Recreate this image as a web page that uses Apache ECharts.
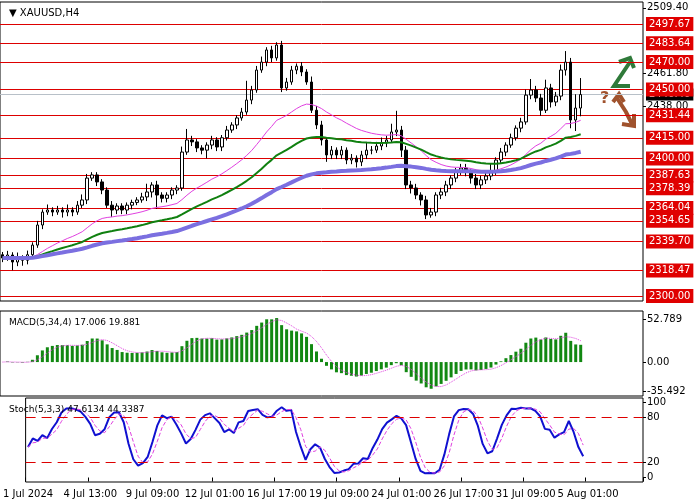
<!DOCTYPE html>
<html>
<head>
<meta charset="utf-8">
<script src="https://cdn.jsdelivr.net/npm/echarts@6/dist/echarts.min.js"></script>
<style>html,body{margin:0;padding:0;background:#fff}#main{width:700px;height:500px}</style>
</head>
<body>
<div id="main"></div>
<script>
// closing prices, one per H4 bar
var closes = [2327.6,2329.8,2324.7,2327.6,2326,2330,2337,2351.6,2361,2362.5,
  2361,2362.5,2361,2362.5,2361,2366,2369.8,2385.7,2388,2382.9,
  2377,2366,2362.5,2365.4,2362.5,2366,2368,2369.8,2372,2375.6,
  2380.7,2373.4,2371,2373.4,2377,2378.5,2404.6,2413.4,2412,2407.6,
  2406,2409.7,2413.4,2408.3,2415,2420.6,2424.3,2429.4,2433.7,2442.4,
  2449.7,2464.2,2470,2478.8,2473,2482.4,2451.2,2455.5,2464.2,2467,
  2462.8,2455.5,2435,2424.3,2413.4,2402.5,2406,2402.5,2406,2398.8,
  2400.2,2397.4,2402.5,2406,2406,2409,2411.2,2413.4,2419.2,2420.6,
  2406,2380.7,2378.5,2373.4,2369.8,2358.9,2361,2373.4,2375.6,2380.7,
  2385.7,2390,2393,2390,2385.7,2380.7,2384.4,2387.2,2390,2398.8,
  2404.6,2409.7,2415,2422,2426.5,2446,2449.7,2443.9,2435,2451.2,
  2441,2445.3,2464.2,2470,2427.9,2436.6,2446.4];
var firstOpen = 2330;
// upper / lower shadow lengths (price units)
var upWick = [2,3,2,4,2,3,2,3,2,4, 2,3,2,4,2,3,4,3,2,2, 2,2,3,2,2,2,2,2,3,6,
  2,3,2,2,2,2,4,8,3,2, 2,2,3,2,2,3,2,2,3,14, 3,3,4,2,3,2,3,3,3,2,
  3,2,4,3,3,2,3,2,3,2, 3,2,3,6,3,3,4,3,6,14, 3,3,3,3,2,3,3,2,3,3,
  2,3,3,3,2,3,3,3,6,2, 3,2,3,2,3,4,8,3,3,6, 3,3,4,8,3,10,12];
var downWick = [3,2,6,3,4,3,2,2,3,2, 3,2,4,3,3,2,2,3,2,3, 3,2,5,3,3,3,3,2,2,3,
  4,10,3,3,3,3,2,2,3,3, 3,6,3,3,3,2,2,3,2,2, 3,2,2,3,3,2,3,2,2,3,
  3,2,2,3,4,5,3,3,3,3, 3,4,3,3,3,2,3,3,2,3, 5,3,4,3,4,3,2,3,3,3,
  3,3,2,3,4,3,3,3,3,2, 2,3,2,2,3,2,3,3,4,2, 4,3,3,4,6,8,6];
var tickIdx = [0,13,26,39,52,65,78,91,104,117];
var tickLabels = ['1 Jul 2024','4 Jul 13:00','9 Jul 09:00','12 Jul 01:00','16 Jul 17:00',
  '19 Jul 09:00','24 Jul 01:00','26 Jul 17:00','31 Jul 09:00','5 Aug 01:00'];
var levels = [2497.67,2483.64,2470.00,2450.00,2431.44,2415.00,2400.00,2387.63,
  2378.39,2364.04,2354.65,2339.70,2318.47,2300.00];
var priceLabels = [2509.40,2461.80,2438.00,2294.50];
var macdLabels = [52.789,0,-35.492];
var stochLabels = [100,80,20,0];
var slotCount = 129;

var cats = [];
for (var i = 0; i < slotCount; i++) {
  var k = tickIdx.indexOf(i);
  cats.push(k >= 0 ? tickLabels[k] : '');
}
var ohlc = [], highs = [], lows = [];
for (var i = 0; i < closes.length; i++) {
  var o = i === 0 ? firstOpen : closes[i - 1], c = closes[i];
  var h = Math.max(o, c) + upWick[i], l = Math.min(o, c) - downWick[i];
  highs.push(h); lows.push(l);
  ohlc.push([o, c, l, h]);
}
function ema(src, n) {
  var a = 2 / (n + 1), out = [], v = src[0];
  for (var i = 0; i < src.length; i++) { v = i ? v + a * (src[i] - v) : src[0]; out.push(+v.toFixed(2)); }
  return out;
}
function sma(src, n) {
  var out = [];
  for (var i = 0; i < src.length; i++) {
    var s = 0, m = 0;
    for (var j = Math.max(0, i - n + 1); j <= i; j++) { s += src[j]; m++; }
    out.push(+(s / m).toFixed(3));
  }
  return out;
}
var maPink = ema(closes, 26), maGreen = ema(closes, 50), maBlue = ema(closes, 95);
var e5 = ema(closes, 5), e34 = ema(closes, 34);
var macd = e5.map(function (v, i) { return +(v - e34[i]).toFixed(3); });
var macdSig = sma(macd, 4);
var rawK = closes.map(function (c, i) {
  var hh = -Infinity, ll = Infinity;
  for (var j = Math.max(0, i - 4); j <= i; j++) { hh = Math.max(hh, highs[j]); ll = Math.min(ll, lows[j]); }
  return hh === ll ? 50 : (c - ll) / (hh - ll) * 100;
});
var stochK = sma(rawK, 3), stochD = sma(stochK, 3);

var font = 'DejaVu Sans';
var chart = echarts.init(document.getElementById('main'));
var lastClose = closes[closes.length - 1];
var lvlLines = [{ yAxis: lastClose, lineStyle: { color: '#b8c0c8', width: 1, type: 'solid' },
  label: { formatter: lastClose.toFixed(2), backgroundColor: '#000', color: '#fff', padding: [1, 3], fontSize: 10, fontFamily: font, distance: 3 } }];
levels.forEach(function (v) {
  lvlLines.push({ yAxis: v, lineStyle: { color: '#dd0000', width: 1, type: 'solid' },
    label: { formatter: v.toFixed(2), backgroundColor: '#e00000', color: '#fff', padding: [2, 3], fontSize: 10, fontFamily: font, distance: 3 } });
});

function xAx(gi, show) {
  return { type: 'category', gridIndex: gi, data: cats, boundaryGap: true,
    axisLine: { show: false }, splitLine: { show: false },
    axisTick: { show: show, interval: function (i) { return tickIdx.indexOf(i) >= 0; }, lineStyle: { color: '#000' }, length: 4 },
    axisLabel: { show: show, interval: function (i) { return tickIdx.indexOf(i) >= 0; }, color: '#000', fontSize: 10, fontFamily: font, margin: 7 } };
}
function yAx(gi, min, max, custom, fmt) {
  return { type: 'value', gridIndex: gi, position: 'right', min: min, max: max, scale: true,
    splitLine: { show: false }, axisLine: { show: false },
    axisTick: { show: true, customValues: custom, length: 3, lineStyle: { color: '#000' } },
    axisLabel: { customValues: custom, color: '#000', fontSize: 10, fontFamily: font, margin: 4, formatter: fmt } };
}
chart.setOption({
  animation: false,
  backgroundColor: '#fff',
  grid: [
    { left: 0, right: 57, top: 2, height: 299, show: true, borderColor: '#000', borderWidth: 1 },
    { left: 0, right: 57, top: 311, height: 85, show: true, borderColor: '#000', borderWidth: 1 },
    { left: 0, right: 57, top: 398, height: 84, show: true, borderColor: '#000', borderWidth: 1 }
  ],
  xAxis: [xAx(0, false), xAx(1, false), xAx(2, true)],
  yAxis: [
    yAx(0, 2296.37, 2513.66, priceLabels, function (v) { return v.toFixed(2); }),
    yAx(1, -41.6, 62.6, macdLabels, function (v) { return v === 0 ? '0.00' : v.toFixed(3); }),
    yAx(2, -6, 106, stochLabels, function (v) { return String(v); })
  ],
  title: [
    { text: '\u25BC XAUUSD,H4', left: 4, top: 3, textStyle: { fontSize: 10, fontWeight: 'normal', fontFamily: font, color: '#000' } },
    { text: 'MACD(5,34,4) 17.006 19.881', left: 4, top: 313, textStyle: { fontSize: 9, fontWeight: 'normal', fontFamily: font, color: '#000' } },
    { text: 'Stoch(5,3,3) 47.6134 44.3387', left: 4, top: 400, textStyle: { fontSize: 9, fontWeight: 'normal', fontFamily: font, color: '#000' } }
  ],
  series: [
    { type: 'candlestick', xAxisIndex: 0, yAxisIndex: 0, data: ohlc, barWidth: 3,
      itemStyle: { color: '#fff', color0: '#000', borderColor: '#000', borderColor0: '#000', borderWidth: 1 },
      markLine: { silent: true, symbol: 'none', data: lvlLines, z: 1 } },
    { type: 'line', xAxisIndex: 0, yAxisIndex: 0, data: maPink, showSymbol: false, lineStyle: { color: '#e040e0', width: 1 } },
    { type: 'line', xAxisIndex: 0, yAxisIndex: 0, data: maGreen, showSymbol: false, lineStyle: { color: '#108010', width: 2 } },
    { type: 'line', xAxisIndex: 0, yAxisIndex: 0, data: maBlue, showSymbol: false, lineStyle: { color: '#7b6fe0', width: 4 } },
    { type: 'bar', xAxisIndex: 1, yAxisIndex: 1, data: macd, barWidth: 3, itemStyle: { color: '#118811' } },
    { type: 'line', xAxisIndex: 1, yAxisIndex: 1, data: macdSig, showSymbol: false, lineStyle: { color: '#e040e0', width: 1, type: 'dotted' } },
    { type: 'line', xAxisIndex: 2, yAxisIndex: 2, data: stochK, showSymbol: false, lineStyle: { color: '#1010d0', width: 2 },
      markLine: { silent: true, symbol: 'none', label: { show: false },
        data: [{ yAxis: 80 }, { yAxis: 20 }], lineStyle: { color: '#dd0000', type: [10, 6], width: 1 } } },
    { type: 'line', xAxisIndex: 2, yAxisIndex: 2, data: stochD, showSymbol: false, lineStyle: { color: '#e040e0', width: 1, type: 'dashed' } }
  ],
  graphic: [
    { type: 'polyline', shape: { points: [[630, 86], [614, 86], [630, 62]] }, style: { stroke: '#2f7a3a', lineWidth: 4, fill: null } },
    { type: 'polyline', shape: { points: [[619, 62], [630, 58], [634, 68]] }, style: { stroke: '#2f7a3a', lineWidth: 4, fill: null } },
    { type: 'polyline', shape: { points: [[617, 98], [626, 112], [632, 124]] }, style: { stroke: '#a0522d', lineWidth: 4, fill: null } },
    { type: 'polyline', shape: { points: [[622, 124], [634, 126], [634, 114]] }, style: { stroke: '#a0522d', lineWidth: 4, fill: null } },
    { type: 'polyline', shape: { points: [[613, 102], [619, 94], [624, 102]] }, style: { stroke: '#a0522d', lineWidth: 4, fill: null } },
    { type: 'text', left: 600, top: 91, style: { text: '?', fill: '#a0522d', font: 'bold 16px ' + font } }
  ]
});
</script>
</body>
</html>
